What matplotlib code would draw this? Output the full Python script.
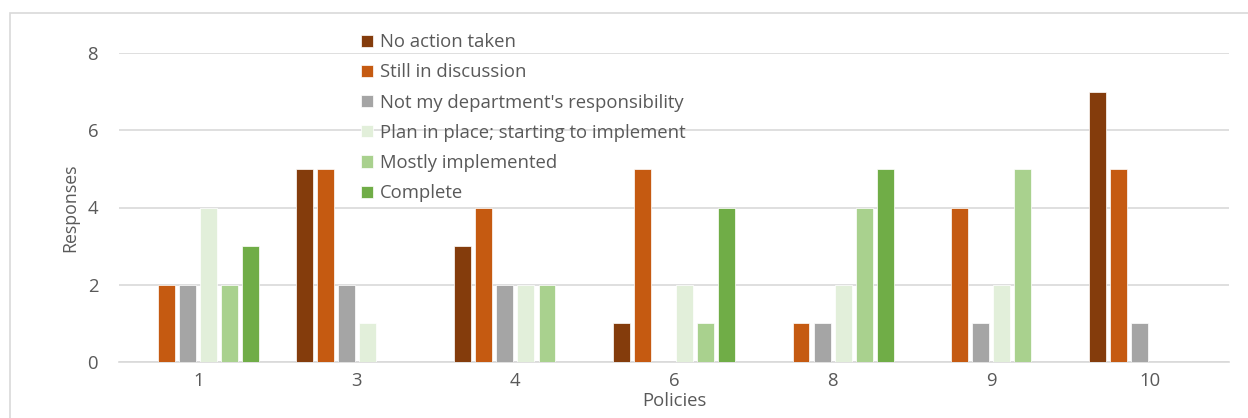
import numpy as np
import matplotlib.pyplot as plt
from matplotlib.patches import Rectangle

policies = ["1", "3", "4", "6", "8", "9", "10"]
series_names = ["No action taken", "Still in discussion", "Not my department's responsibility",
                "Plan in place; starting to implement", "Mostly implemented", "Complete"]
no_action = [0, 5, 3, 1, 0, 0, 7]
discussion = [2, 5, 4, 5, 1, 4, 5]
not_my_dept = [2, 2, 2, 0, 1, 1, 1]
plan_in_place = [4, 1, 2, 2, 2, 2, 0]
mostly = [2, 0, 2, 1, 4, 5, 0]
complete = [3, 0, 0, 4, 5, 0, 0]
colors = ["#843C0C", "#C55A11", "#A5A5A5", "#E2EFDA", "#A9D18E", "#70AD47"]

plt.rcParams['font.family'] = ['Open Sans', 'DejaVu Sans']
text_color = "#595959"
fs = 13.3

fig = plt.figure(figsize=(12.48, 4.18), dpi=100)
W, H = 1248, 418
ax = fig.add_axes([119 / W, (H - 362) / H, (1229 - 119) / W, (362 - 53) / H])

# chart area border (top and left visible)
fig.patches.append(Rectangle((10 / W, -0.1), 1.2, 1 - 13 / H + 0.1, transform=fig.transFigure,
                             fill=False, edgecolor="#D9D9D9", linewidth=1.2))

x = np.arange(len(policies))
pitch = 0.1327
width = 0.107
all_series = [no_action, discussion, not_my_dept, plan_in_place, mostly, complete]
for i, (vals, name, c) in enumerate(zip(all_series, series_names, colors)):
    ax.bar(x + (i - 2.5) * pitch, vals, width, color=c, label=name,
           edgecolor="white", linewidth=0.5, zorder=3)

ax.set_xlim(-0.5, len(policies) - 0.5)
ax.set_ylim(0, 8)
ax.set_yticks([0, 2, 4, 6, 8])
ax.set_xticks(x)
ax.set_xticklabels(policies)
ax.yaxis.grid(True, color="#D9D9D9", linewidth=1.2, zorder=0)
ax.set_axisbelow(True)
for s in ["top", "right", "left"]:
    ax.spines[s].set_visible(False)
ax.spines["bottom"].set_color("#D9D9D9")
ax.spines["bottom"].set_linewidth(1.2)
ax.tick_params(axis="both", length=0, labelsize=fs, labelcolor=text_color)
ax.tick_params(axis="y", pad=15)
ax.tick_params(axis="x", pad=7)

ax.set_ylabel("Responses", fontsize=fs - 0.5, color=text_color, labelpad=6)
ax.set_xlabel("Policies", fontsize=fs, color=text_color, labelpad=2)

leg = ax.legend(loc="upper left", bbox_to_anchor=(352 / W, 1 - 24 / H), bbox_transform=fig.transFigure,
                frameon=False, fontsize=fs, handlelength=0.65, handleheight=0.65,
                handletextpad=0.35, labelspacing=0.66, borderpad=0)
for t in leg.get_texts():
    t.set_color(text_color)

fig.savefig("out.png", dpi=100)
